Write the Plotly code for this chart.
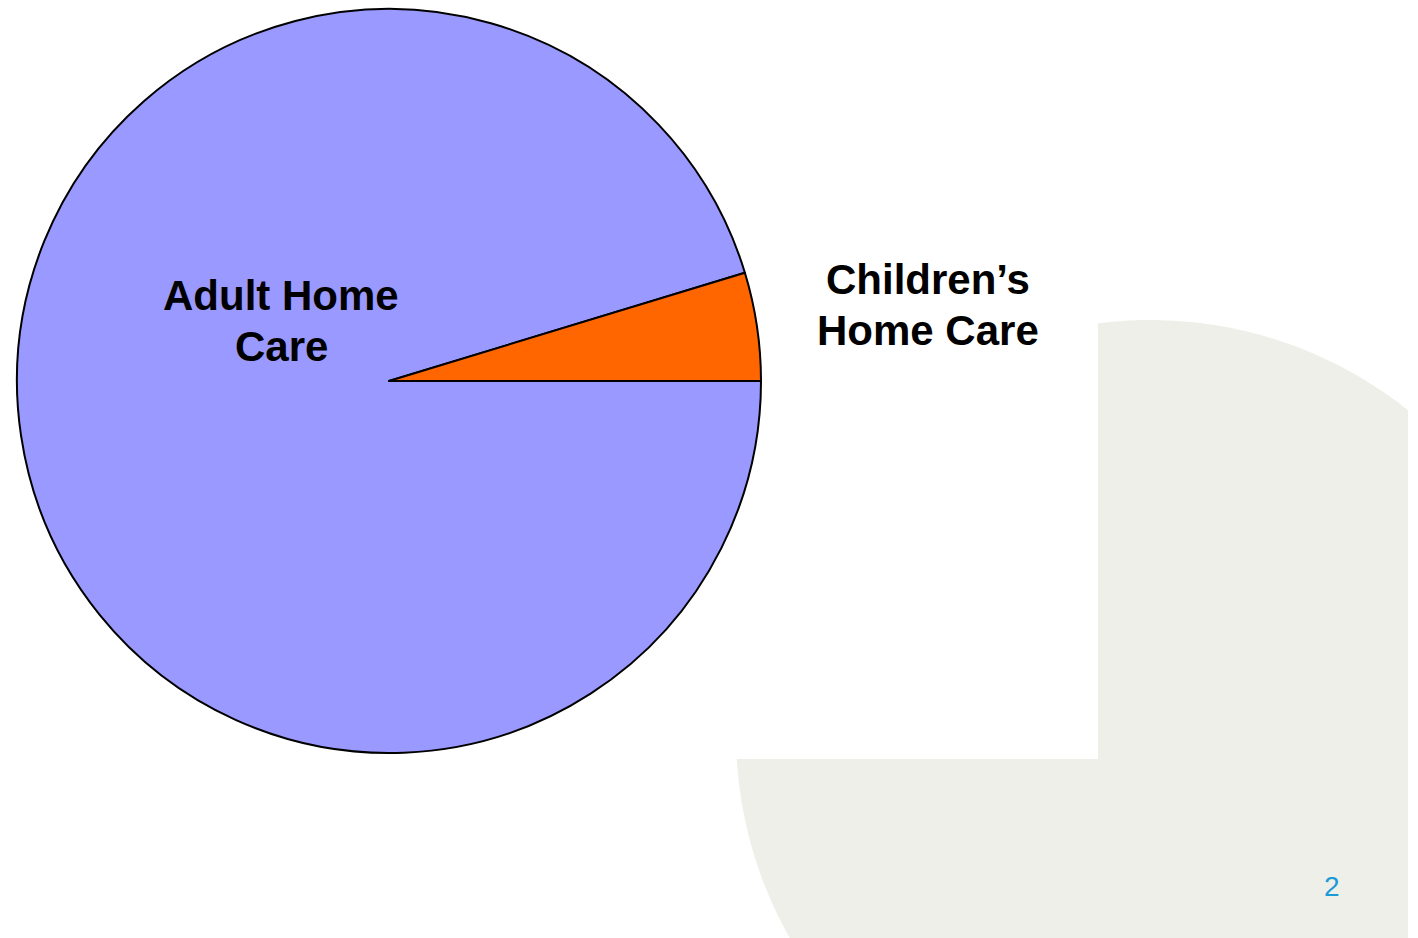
import numpy as np
import plotly.graph_objects as go

W, H = 1418, 938

# Data
labels = ["Adult Home Care", "Children\u2019s Home Care"]
values = [95.3, 4.7]
colors = ["#9999FF", "#FF6600"]
page_number = "2"

def px(x):
    return x / W

def py(y):
    return 1 - y / H

fig = go.Figure()

# Pie geometry (pixels)
cx, cy, r = 389, 381, 372
fig.add_trace(go.Pie(
    labels=labels,
    values=values,
    marker=dict(colors=colors, line=dict(color="black", width=2)),
    textinfo="none",
    hoverinfo="label+percent",
    sort=False,
    direction="counterclockwise",
    rotation=90,
    showlegend=False,
    domain=dict(x=[px(cx - r), px(cx + r)], y=[py(cy + r), py(cy - r)]),
))

# Decorative background: textured circle segment at bottom right
bc_x, bc_y, br = 1150, 734, 414
cut_x, cut_y = 1098, 759
pts = []
for a in np.linspace(0, 2 * np.pi, 400):
    x = bc_x + br * np.cos(a)
    y = bc_y + br * np.sin(a)
    pts.append((x, y))
path = "M " + " L ".join(f"{px(x):.5f},{py(y):.5f}" for x, y in pts) + " Z"
shapes = [
    dict(type="path", xref="paper", yref="paper", path=path,
         fillcolor="#EFEFEA", line=dict(width=0), layer="below"),
    dict(type="rect", xref="paper", yref="paper",
         x0=px(600), x1=px(cut_x), y0=py(cut_y), y1=py(0),
         fillcolor="white", line=dict(width=0), layer="below"),
    dict(type="rect", xref="paper", yref="paper",
         x0=px(1408), x1=1.0, y0=0, y1=1,
         fillcolor="white", line=dict(width=0), layer="below"),
]

font = dict(family="Liberation Sans, Arial, sans-serif", size=42, color="black")
annotations = [
    dict(text="<b>Adult Home</b>", x=px(281), y=py(295), xref="paper", yref="paper",
         showarrow=False, font=font, xanchor="center", yanchor="middle"),
    dict(text="<b>Care</b>", x=px(281), y=py(346), xref="paper", yref="paper",
         showarrow=False, font=font, xanchor="center", yanchor="middle"),
    dict(text="<b>Children\u2019s</b>", x=px(928), y=py(279), xref="paper", yref="paper",
         showarrow=False, font=font, xanchor="center", yanchor="middle"),
    dict(text="<b>Home Care</b>", x=px(928), y=py(330), xref="paper", yref="paper",
         showarrow=False, font=font, xanchor="center", yanchor="middle"),
    dict(text=page_number, x=px(1332), y=py(886), xref="paper", yref="paper",
         showarrow=False, font=dict(family="Liberation Sans, Arial, sans-serif", size=28, color="#1A9AD6"),
         xanchor="center", yanchor="middle"),
]

fig.update_layout(
    width=W, height=H,
    margin=dict(l=0, r=0, t=0, b=0),
    paper_bgcolor="white",
    plot_bgcolor="white",
    shapes=shapes,
    annotations=annotations,
)

fig.write_html("out.html", config={"displayModeBar": False},
               post_script="document.body.style.margin='0';document.body.style.overflow='hidden';")
